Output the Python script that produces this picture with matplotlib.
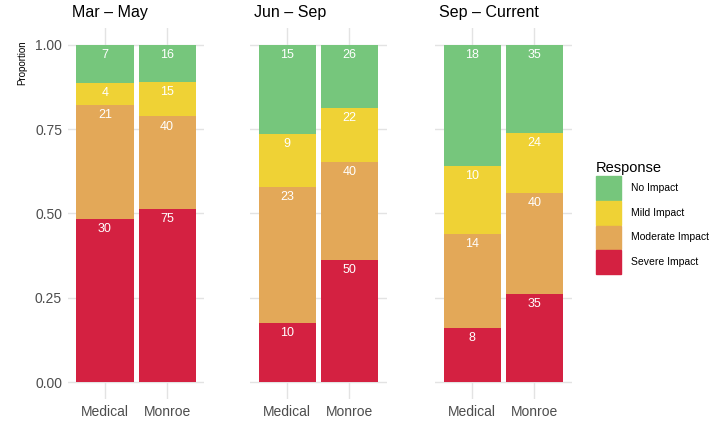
import numpy as np
import matplotlib.pyplot as plt

plt.rcParams['font.family'] = ['Liberation Sans', 'DejaVu Sans']

periods = ['Mar – May', 'Jun – Sep', 'Sep – Current']
sites = ['Medical', 'Monroe']
responses = ['No Impact', 'Mild Impact', 'Moderate Impact', 'Severe Impact']
colors = ['#76C67C', '#EFD235', '#E3A858', '#D42141']

# counts per period: rows = site, columns = response (No, Mild, Moderate, Severe)
mar_may = [[7, 4, 21, 30], [16, 15, 40, 75]]
jun_sep = [[15, 9, 23, 10], [26, 22, 40, 50]]
sep_cur = [[18, 10, 14, 8], [35, 24, 40, 35]]
counts = [mar_may, jun_sep, sep_cur]

fig = plt.figure(figsize=(7.2, 4.24), dpi=100)
lefts = [0.094, 0.347, 0.604]
pw = 0.19
grid_c = '#E3E3E3'

for i, (period, data) in enumerate(zip(periods, counts)):
    ax = fig.add_axes([lefts[i], 0.059, pw, 0.875])
    for j, row in enumerate(data):
        row = np.array(row, dtype=float)
        props = row / row.sum()
        # stack from the bottom: severe first
        bottom = 0.0
        for k in [3, 2, 1, 0]:
            ax.bar(j + 1, props[k], width=0.92, bottom=bottom, color=colors[k],
                   linewidth=0, zorder=2)
            top = bottom + props[k]
            ax.text(j + 1, top - 0.012, str(int(row[k])), ha='center', va='top',
                    color='white', fontsize=9, zorder=3)
            bottom = top
    ax.set_xlim(0.4, 2.6)
    ax.set_ylim(-0.05, 1.05)
    ax.set_xticks([1, 2])
    ax.set_xticklabels(sites)
    ax.set_yticks([0, 0.25, 0.5, 0.75, 1.0])
    if i == 0:
        ax.set_yticklabels(['0.00', '0.25', '0.50', '0.75', '1.00'])
    else:
        ax.set_yticklabels([])
    ax.grid(True, color=grid_c, linewidth=1, zorder=0)
    ax.set_axisbelow(True)
    for s in ax.spines.values():
        s.set_visible(False)
    ax.tick_params(length=0, labelsize=10, colors='#4D4D4D', pad=4)
    ax.set_title(period, loc='left', fontsize=11.5, pad=8, x=0.03)

fig.text(0.031, 0.905, 'Proportion', rotation=90, ha='center', va='top', fontsize=7)

handles = [plt.Rectangle((0, 0), 1, 1, color=colors[k]) for k in range(4)]
leg = fig.legend(handles, responses, title='Response', loc='center left',
                 bbox_to_anchor=(0.815, 0.487), frameon=False, fontsize=7.5,
                 title_fontsize=10.5, handlelength=2.4, handleheight=3.1,
                 handletextpad=0.9, labelspacing=0.1)
leg._legend_box.align = 'left'

fig.savefig('out.png', dpi=100)
